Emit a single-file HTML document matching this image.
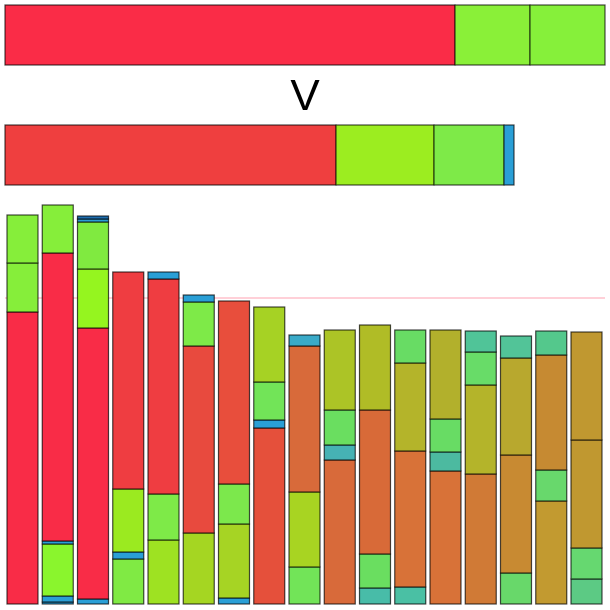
<!DOCTYPE html>
<html><head><meta charset="utf-8"><style>
html,body{margin:0;padding:0;background:#fff;width:610px;height:610px;overflow:hidden}
svg{display:block}
</style></head><body>
<svg id="chart" width="610" height="610" viewBox="0 0 610 610" xmlns="http://www.w3.org/2000/svg">
<g stroke="rgba(0,0,0,0.7)" stroke-width="1.2">
<rect x="5" y="5" width="450" height="60" fill="#fa2c47"/>
<rect x="455" y="5" width="75" height="60" fill="#8af038"/>
<rect x="530" y="5" width="75" height="60" fill="#86f03a"/>
</g>
<text x="305" y="110" text-anchor="middle" font-family="Liberation Sans, sans-serif" font-size="44">V</text>
<g stroke="rgba(0,0,0,0.7)" stroke-width="1.2">
<rect x="5" y="125" width="331" height="60" fill="#ef3f3f"/>
<rect x="336" y="125" width="98" height="60" fill="#9ced20"/>
<rect x="434" y="125" width="70" height="60" fill="#7eea48"/>
<rect x="504" y="125" width="10" height="60" fill="#2a9fd6"/>
</g>
<line x1="5" y1="298" x2="605" y2="298" stroke="#ffc0cb" stroke-width="1.5"/>
<g id="bars"></g>
</svg>
<script>
const categories = ["b1","b2","b3","b4","b5","b6","b7","b8","b9","b10","b11","b12","b13","b14","b15","b16","b17"];
const segmentValues = [
 [292,49,48],
 [2,6,52,3,288,48],
 [5,271,59,47,3,3],
 [45,7,63,217],
 [64,46,215,7],
 [71,187,44,7],
 [6,74,40,183],
 [176,8,38,75],
 [37,75,146,11],
 [144,15,35,80],
 [16,34,144,85],
 [17,136,88,33],
 [133,19,33,89],
 [130,89,33,21],
 [31,118,97,22],
 [103,31,115,24],
 [25,31,108,108]
];
const segmentColors = [
 ["#f92c47","#86ee3a","#86ee3a"],
 ["#2a9fd6","#2a9fd6","#8af52d","#2a9fd6","#f92c47","#86ee3a"],
 ["#2a9fd6","#f92c47","#95f51f","#80ea40","#2a9fd6","#1f6fb0"],
 ["#80ea44","#2a9fd6","#9bea20","#ef3d41"],
 ["#9ee222","#7eea48","#ef3d41","#2a9fd6"],
 ["#a5d622","#e84a3e","#7eea48","#2a9fd6"],
 ["#2a9fd6","#a6d424","#7ce84c","#e84e3c"],
 ["#e5503b","#2a9fd6","#72e458","#a6d224"],
 ["#72e458","#a8d422","#d86a3a","#3aaac8"],
 ["#d86a3a","#46b2b4","#6ade60","#acc426"],
 ["#48bca8","#6ade60","#d86a38","#b0bc26"],
 ["#4ac0a4","#d87238","#b4b42a","#68dc64"],
 ["#d87238","#4cbaa0","#68dc64","#b2b02c"],
 ["#d07a36","#b4b42a","#68dc68","#50c498"],
 ["#68d86a","#c88a32","#b8a82e","#52c498"],
 ["#c29a30","#68d86c","#c68a32","#54c88c"],
 ["#5cca84","#66d870","#c09830","#c09830"]
];
const NS="http://www.w3.org/2000/svg";
const firstLeft=7, lastLeft=571, baseY=604, pxPerUnit=1;
const step=(lastLeft-firstLeft)/(categories.length-1);
const barW=31;
function xScale(i){return firstLeft+i*step;}
function yScale(v){return baseY-v*pxPerUnit;}
const g=document.getElementById('bars');
categories.forEach((c,i)=>{
  const bg=document.createElementNS(NS,'g');
  
  
  let cum=0;
  segmentValues[i].forEach((v,j)=>{
    const r=document.createElementNS(NS,'rect');
    r.setAttribute('x',xScale(i));
    r.setAttribute('y',yScale(cum+v));
    r.setAttribute('width',barW);
    r.setAttribute('height',Math.max(0,yScale(cum)-yScale(cum+v)));
    r.setAttribute('fill',segmentColors[i][j]||'#888');
    r.setAttribute('stroke','rgba(0,0,0,0.7)');
    r.setAttribute('stroke-width','1.2');
    
    
    bg.appendChild(r);
    cum+=v;
  });
  g.appendChild(bg);
});
</script>
</body></html>
